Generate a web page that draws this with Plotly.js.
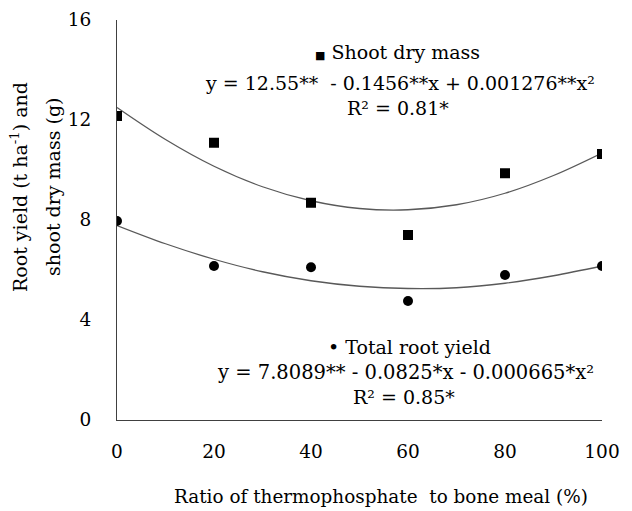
<!DOCTYPE html>
<html>
<head>
<meta charset="utf-8">
<script src="https://cdn.plot.ly/plotly-3.0.1.min.js"></script>
<style>html,body{margin:0;padding:0;background:#fff;}#chart{width:632px;height:511px;}</style>
</head>
<body>
<div id="chart"></div>
<script>
// Observed data
var ratios = [0, 20, 40, 60, 80, 100];
var shootDryMass = [12.16, 11.09, 8.69, 7.40, 9.87, 10.64];
var totalRootYield = [7.96, 6.16, 6.11, 4.76, 5.80, 6.16];

// Trend curves
var fitX = [0, 10, 20, 30, 40, 50, 60, 70, 80, 90, 100];
var shootFit = [12.50, 11.22, 10.15, 9.33, 8.77, 8.46, 8.41, 8.61, 9.07, 9.78, 10.68];
var rootFit = [7.78, 7.05, 6.43, 5.93, 5.57, 5.35, 5.26, 5.29, 5.47, 5.77, 6.16];

var xTicks = [0, 20, 40, 60, 80, 100];
var yTicks = [0, 4, 8, 12, 16];

var FONT = "DejaVu Serif";
var TXT = 19;
var TICK = 18.5;
var curveColor = "#595959";

var traces = [
  {x: fitX, y: shootFit, mode: "lines", line: {color: curveColor, width: 1.3, shape: "spline"}, hoverinfo: "skip"},
  {x: fitX, y: rootFit, mode: "lines", line: {color: curveColor, width: 1.3, shape: "spline"}, hoverinfo: "skip"},
  {x: ratios, y: shootDryMass, mode: "markers", marker: {symbol: "square", size: 10, color: "#000"}},
  {x: ratios, y: totalRootYield, mode: "markers", marker: {symbol: "circle", size: 10, color: "#000"}}
];

function ann(text, x, y, size) {
  return {text: text, x: x, y: y, xref: "x", yref: "y", showarrow: false,
    font: {family: FONT, size: size || TXT, color: "#000"}, xanchor: "center", yanchor: "middle"};
}
function pann(text, x, y, angle, size) {
  return {text: text, x: x, y: y, xref: "paper", yref: "paper", showarrow: false, textangle: angle || 0,
    font: {family: FONT, size: size || TXT, color: "#000"}, xanchor: "center", yanchor: "middle"};
}

var layout = {
  width: 632, height: 511,
  margin: {l: 117, r: 30, t: 20, b: 91},
  paper_bgcolor: "#fff", plot_bgcolor: "#fff",
  showlegend: false,
  font: {family: FONT, size: TICK, color: "#000"},
  xaxis: {
    range: [0, 100], tickvals: xTicks, ticktext: xTicks.map(String),
    showgrid: false, zeroline: false, showline: true, linecolor: "#404040", linewidth: 1,
    ticks: "", ticklabelstandoff: 15, tickfont: {family: FONT, size: TICK, color: "#000"}
  },
  yaxis: {
    range: [0, 16], tickvals: yTicks, ticktext: yTicks.map(String),
    showgrid: false, zeroline: false, showline: true, linecolor: "#404040", linewidth: 1,
    ticks: "", ticklabelstandoff: 21, tickfont: {family: FONT, size: TICK, color: "#000"}
  },
  annotations: [
    ann('<span style="font-size:11px">■</span> Shoot dry mass', 57.9, 14.72),
    ann('y = 12.55**  - 0.1456**x + 0.001276**x²', 58.4, 13.48),
    ann('R² = 0.81*', 57.9, 12.48),
    ann('• Total root yield', 60.4, 2.92),
    ann('y = 7.8089** - 0.0825*x - 0.000665*x²', 59.4, 1.92, 19.5),
    ann('R² = 0.85*', 59.2, 0.92),
    pann('Ratio of thermophosphate  to bone meal (%)', 0.544, -0.1925, 0, 18.4),
    pann('Root yield (t ha<sup>-1</sup>) and', -0.202, 0.5825, -90),
    pann('shoot dry mass (g)', -0.132, 0.5825, -90)
  ]
};

Plotly.newPlot("chart", traces, layout, {staticPlot: true, displayModeBar: false});
</script>
</body>
</html>
